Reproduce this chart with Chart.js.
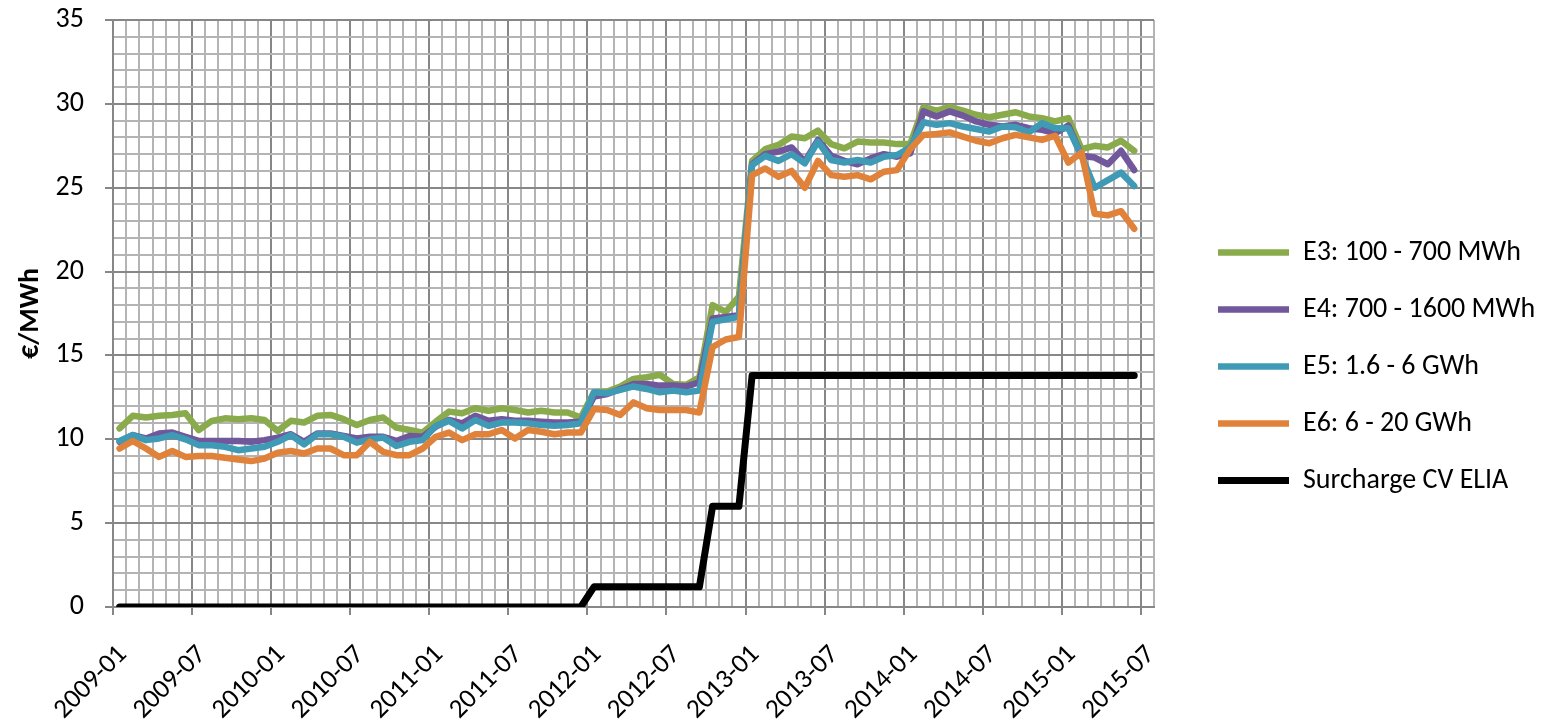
<!DOCTYPE html>
<html>
<head>
<meta charset="utf-8">
<script src="https://cdn.jsdelivr.net/npm/chart.js@4.4.1/dist/chart.umd.min.js"></script>
<style>
  body { margin: 0; background: #fff; }
  #wrap { width: 1559px; height: 719px; }
</style>
</head>
<body>
<div id="wrap"><canvas id="priceChart" width="1559" height="719"></canvas></div>
<script>
// Monthly data, first value = 2009-01, last = 2015-06
const tickLabels = ['2009-01', '2009-07', '2010-01', '2010-07', '2011-01', '2011-07', '2012-01',
  '2012-07', '2013-01', '2013-07', '2014-01', '2014-07', '2015-01', '2015-07'];

const e3 = [10.65, 11.4, 11.3, 11.4, 11.45, 11.55, 10.55, 11.1, 11.25, 11.2, 11.25, 11.15,
  10.5, 11.1, 11.0, 11.4, 11.45, 11.2, 10.85, 11.15, 11.3, 10.7, 10.55, 10.4,
  11.05, 11.65, 11.55, 11.85, 11.7, 11.85, 11.75, 11.6, 11.7, 11.6, 11.6, 11.3,
  12.8, 12.85, 13.15, 13.6, 13.7, 13.85, 13.3, 13.25, 13.7, 18.0, 17.6, 18.5,
  26.6, 27.3, 27.55, 28.05, 27.95, 28.4, 27.6, 27.35, 27.75, 27.7, 27.7, 27.6,
  27.6, 29.8, 29.6, 29.8, 29.6, 29.35, 29.2, 29.35, 29.5, 29.25, 29.15, 28.95,
  29.15, 27.3, 27.5, 27.4, 27.8, 27.2];

const e4 = [9.85, 10.25, 10.05, 10.35, 10.4, 10.15, 9.9, 9.9, 9.9, 9.9, 9.85, 9.95,
  10.1, 10.3, 9.85, 10.35, 10.35, 10.2, 10.05, 10.15, 10.15, 9.9, 10.2, 10.15,
  10.75, 11.15, 10.95, 11.4, 11.1, 11.2, 11.1, 11.1, 11.05, 11.0, 11.0, 11.05,
  12.55, 12.7, 13.0, 13.3, 13.3, 13.2, 13.2, 13.15, 13.4, 17.2, 17.3, 17.4,
  26.4, 27.0, 27.15, 27.4, 26.55, 27.85, 26.9, 26.6, 26.4, 26.75, 27.0, 26.85,
  27.05, 29.55, 29.25, 29.55, 29.3, 28.95, 28.75, 28.65, 28.75, 28.55, 28.45, 28.25,
  28.7, 26.9, 26.8, 26.4, 27.2, 26.05];

const e5 = [9.9, 10.25, 9.95, 10.05, 10.25, 10.0, 9.65, 9.65, 9.55, 9.35, 9.45, 9.55,
  9.85, 10.25, 9.7, 10.3, 10.3, 10.15, 9.8, 10.0, 10.1, 9.6, 9.85, 9.95,
  10.8, 11.1, 10.65, 11.15, 10.8, 11.0, 11.0, 10.95, 10.85, 10.8, 10.85, 10.95,
  12.8, 12.75, 12.95, 13.15, 13.0, 12.8, 12.9, 12.8, 12.9, 17.0, 17.15, 17.3,
  26.35, 26.9, 26.6, 27.0, 26.45, 27.75, 26.65, 26.5, 26.65, 26.5, 26.85, 26.95,
  27.4, 28.9, 28.75, 28.85, 28.65, 28.5, 28.35, 28.65, 28.6, 28.3, 28.85, 28.55,
  28.55, 26.9, 25.0, 25.45, 25.9, 25.1];

const e6 = [9.45, 9.9, 9.45, 8.95, 9.3, 8.95, 9.0, 9.0, 8.9, 8.8, 8.7, 8.85,
  9.2, 9.3, 9.15, 9.45, 9.45, 9.05, 9.05, 9.85, 9.25, 9.05, 9.05, 9.45,
  10.15, 10.4, 9.95, 10.3, 10.3, 10.55, 10.05, 10.55, 10.45, 10.3, 10.4, 10.4,
  11.8, 11.75, 11.45, 12.2, 11.85, 11.75, 11.75, 11.75, 11.6, 15.5, 15.95, 16.1,
  25.75, 26.15, 25.65, 26.0, 25.0, 26.6, 25.75, 25.65, 25.75, 25.5, 25.95, 26.05,
  27.3, 28.15, 28.2, 28.3, 28.05, 27.8, 27.65, 27.95, 28.15, 28.0, 27.85, 28.1,
  26.5, 27.1, 23.45, 23.35, 23.6, 22.55];

const surcharge = [0, 0, 0, 0, 0, 0, 0, 0, 0, 0, 0, 0,
  0, 0, 0, 0, 0, 0, 0, 0, 0, 0, 0, 0,
  0, 0, 0, 0, 0, 0, 0, 0, 0, 0, 0, 0,
  1.2, 1.2, 1.2, 1.2, 1.2, 1.2, 1.2, 1.2, 1.2, 6.0, 6.0, 6.0,
  13.8, 13.8, 13.8, 13.8, 13.8, 13.8, 13.8, 13.8, 13.8, 13.8, 13.8, 13.8,
  13.8, 13.8, 13.8, 13.8, 13.8, 13.8, 13.8, 13.8, 13.8, 13.8, 13.8, 13.8,
  13.8, 13.8, 13.8, 13.8, 13.8, 13.8];

const seriesNames = ['E3: 100 - 700 MWh', 'E4: 700 - 1600 MWh', 'E5: 1.6 - 6 GWh',
  'E6: 6 - 20 GWh', 'Surcharge CV ELIA'];

const majorGrid = '#878787';
const minorGrid = '#b4b4b4';
const FONT = 'Carlito, Lato, sans-serif';

Chart.defaults.font.family = FONT;
Chart.defaults.color = '#000';

// each month sits in the middle of its grid cell
function toPoints(values) {
  return values.map((v, i) => ({ x: i + 0.5, y: v }));
}

function lineSet(label, values, color, width, order) {
  return {
    label: label,
    data: toPoints(values),
    borderColor: color,
    backgroundColor: color,
    borderWidth: width,
    pointRadius: 0,
    pointStyle: 'line',
    tension: 0,
    borderJoinStyle: 'round',
    borderCapStyle: 'round',
    order: order
  };
}

// put the legend where Excel had it
const legendPlace = {
  id: 'legendPlace',
  beforeLayout(chart) {
    const lg = chart.legend;
    if (lg && !lg._patched) {
      const fit = lg.fit.bind(lg);
      lg.fit = function () { fit(); this.width = 405; };
      lg._patched = true;
    }
  },
  afterLayout(chart) {
    const lg = chart.legend;
    lg.left = 1189;
    lg.top -= 3;
    lg.bottom -= 3;
  }
};

new Chart(document.getElementById('priceChart'), {
  type: 'line',
  data: {
    datasets: [
      lineSet(seriesNames[0], e3, '#8aab4b', 6.5, 5),
      lineSet(seriesNames[1], e4, '#71579b', 6.5, 4),
      lineSet(seriesNames[2], e5, '#3f9bb5', 6.5, 3),
      lineSet(seriesNames[3], e6, '#e0823a', 6.5, 2),
      lineSet(seriesNames[4], surcharge, '#000000', 7, 1)
    ]
  },
  options: {
    responsive: false,
    animation: false,
    layout: { padding: { top: 20, left: 0, right: 0, bottom: 0 } },
    plugins: {
      tooltip: { enabled: false },
      legend: {
        position: 'right',
        align: 'center',
        labels: {
          usePointStyle: true,
          pointStyleWidth: 71,
          boxHeight: 6,
          padding: 29,
          font: { size: 28 },
          color: '#000',
          sort: (a, b) => a.datasetIndex - b.datasetIndex
        }
      }
    },
    scales: {
      x: {
        type: 'linear',
        min: 0,
        max: 79,
        afterFit: (scale) => {
          scale.height = 112;
          scale.paddingLeft = 0;
          scale.paddingRight = 0;
        },
        border: { color: majorGrid, width: 2 },
        grid: {
          lineWidth: 2,
          tickLength: 8,
          color: (c) => (c.tick && c.tick.value % 6 === 0 ? majorGrid : minorGrid),
          tickColor: (c) => (c.tick && c.tick.value % 6 === 0 ? majorGrid : 'rgba(0,0,0,0)')
        },
        ticks: {
          stepSize: 1,
          maxTicksLimit: 200,
          autoSkip: false,
          minRotation: 45,
          maxRotation: 45,
          padding: 24,
          labelOffset: 10,
          font: { size: 27 },
          callback: (v) => (v % 6 === 0 ? tickLabels[v / 6] : '')
        }
      },
      y: {
        min: 0,
        max: 35,
        afterFit: (scale) => {
          scale.width = 113;
          scale.paddingTop = 0;
          scale.paddingBottom = 0;
        },
        border: { color: majorGrid, width: 2 },
        grid: {
          lineWidth: 2,
          tickLength: 8,
          color: (c) => (c.tick && c.tick.value % 5 === 0 ? majorGrid : minorGrid),
          tickColor: (c) => (c.tick && c.tick.value % 5 === 0 ? majorGrid : 'rgba(0,0,0,0)')
        },
        ticks: {
          stepSize: 1,
          autoSkip: false,
          padding: 21,
          font: { size: 28 },
          callback: (v) => (v % 5 === 0 ? v : '')
        },
        title: {
          display: true,
          text: '€/MWh',
          font: { size: 28, weight: 'bold' },
          padding: { top: 14, bottom: 0 }
        }
      }
    }
  },
  plugins: [legendPlace]
});
</script>
</body>
</html>
